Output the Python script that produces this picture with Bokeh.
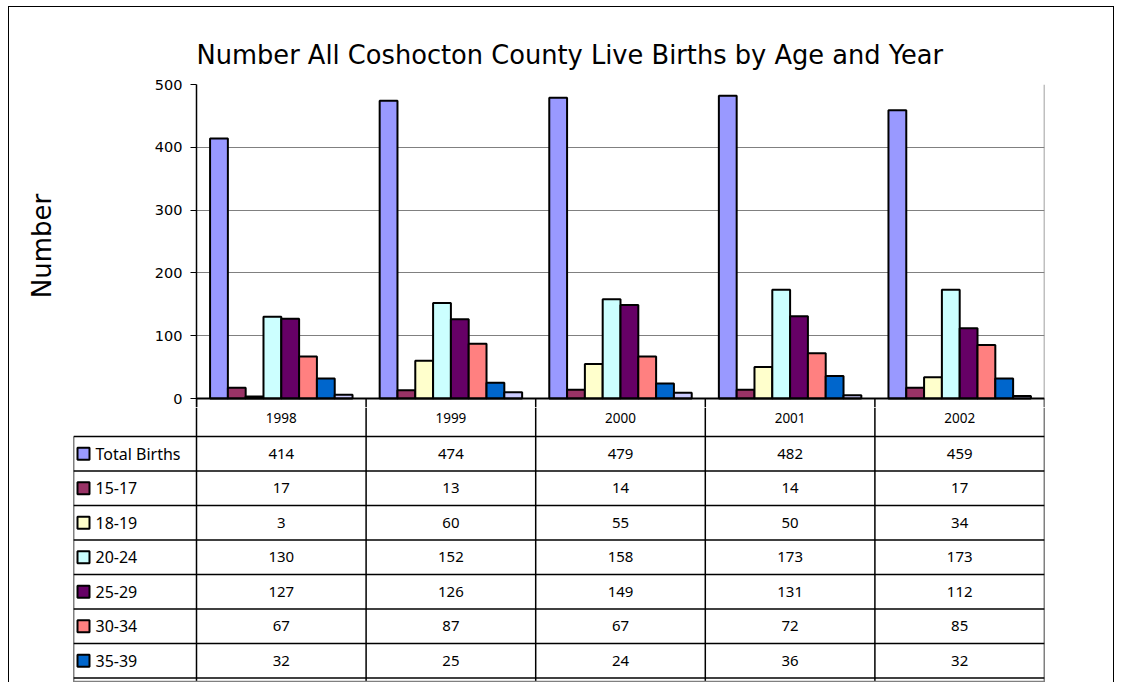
from bokeh.plotting import figure
from bokeh.models import Range1d, Span, FixedTicker
from bokeh.layouts import column
from bokeh.embed import file_html
from bokeh.resources import INLINE
from bokeh.core.properties import value

# ---- data ----
years = ["1998", "1999", "2000", "2001", "2002"]
series_names = ["Total Births", "15-17", "18-19", "20-24", "25-29", "30-34", "35-39", "40+"]
total_births = [414, 474, 479, 482, 459]
age_15_17 = [17, 13, 14, 14, 17]
age_18_19 = [3, 60, 55, 50, 34]
age_20_24 = [130, 152, 158, 173, 173]
age_25_29 = [127, 126, 149, 131, 112]
age_30_34 = [67, 87, 67, 72, 85]
age_35_39 = [32, 25, 24, 36, 32]
age_40_plus = [6, 10, 9, 5, 4]
y_ticks = [0, 100, 200, 300, 400, 500]
colors = ["#9999FF", "#993366", "#FFFFCC", "#CCFFFF", "#660066", "#FF8080", "#0066CC", "#CCCCFF"]

series_values = [total_births, age_15_17, age_18_19, age_20_24, age_25_29,
                 age_30_34, age_35_39, age_40_plus]
table_rows = 7  # rows visible in the data table

FONT = "DejaVu Sans"
TFONT = "Noto Sans"
W = 1104
L1 = 187
FW = 848
FH = 314
R = W - L1 - FW
UNIT = FW / len(years)
PX_PER_VAL = FH / 500
EXT = 9           # px the chart frame extends below zero (tick marks)
ROW_H = 34.5
HEAD_H = 38

# ---- bar chart ----
y_min = -EXT / PX_PER_VAL
p = figure(width=W, height=77 + FH + EXT, x_range=Range1d(0, len(years)), y_range=Range1d(y_min, 500),
           output_backend="svg", toolbar_location=None, x_axis_location=None,
           min_border_left=L1, min_border_right=R, min_border_top=77, min_border_bottom=0)
p.frame_align = False
p.title.text = "Number All Coshocton County Live Births by Age and Year"
p.title.align = "left"
p.title.offset = 0
p.title.text_font = FONT
p.title.text_font_size = "25.7px"
p.title.text_font_style = "normal"
p.title.text_color = "black"
p.title.standoff = 29

p.yaxis.ticker = FixedTicker(ticks=y_ticks)
p.yaxis.major_tick_out = 6
p.yaxis.major_tick_in = 0
p.yaxis.minor_tick_line_color = None
p.yaxis.axis_line_color = "black"
p.yaxis.axis_line_width = 1.5
p.yaxis.major_tick_line_color = "black"
p.yaxis.major_label_standoff = 8
p.yaxis.major_label_text_font = FONT
p.yaxis.major_label_text_font_size = "14.5px"
p.yaxis.major_label_text_color = "black"
p.yaxis.axis_label = "Number"
p.yaxis.axis_label_text_font = FONT
p.yaxis.axis_label_text_font_size = "26px"
p.yaxis.axis_label_text_font_style = "normal"
p.yaxis.axis_label_text_color = "black"
p.yaxis.axis_label_standoff = 95

p.ygrid.ticker = FixedTicker(ticks=y_ticks)
p.ygrid.grid_line_color = "#808080"
p.xgrid.visible = False
p.outline_line_color = None
p.background_fill_color = "white"
p.border_fill_color = "white"

# gray right edge of plot area
p.add_layout(Span(location=len(years), dimension="height", line_color="#808080", line_width=1.5))

n = len(series_values)
bw = 0.84 / n
for k, (vals, col) in enumerate(zip(series_values, colors)):
    xs = [i + 0.5 + (k - (n - 1) / 2) * bw for i in range(len(years))]
    p.vbar(x=xs, top=vals, bottom=0, width=bw, fill_color=col,
           line_color="black", line_width=2)

# category boundary tick marks continuing into the table
edges = list(range(len(years) + 1))
p.segment(x0=edges, y0=[0] * len(edges), x1=edges, y1=[y_min] * len(edges),
          line_color="black", line_width=1.5)
p.add_layout(Span(location=0, dimension="width", line_color="black", line_width=2))

# ---- data table below ----
L2 = 64
x_left = -(L1 - L2) / UNIT
y_top = -(HEAD_H - EXT) / ROW_H
y_bottom = 7.13
H2 = int(round((y_bottom - y_top) * ROW_H))
p2 = figure(width=W, height=H2, x_range=Range1d(x_left, len(years)),
            y_range=Range1d(y_bottom, y_top),
            output_backend="svg", toolbar_location=None,
            x_axis_location=None, y_axis_location=None,
            min_border_left=L2, min_border_right=R, min_border_top=0, min_border_bottom=0)
p2.frame_align = False
p2.grid.visible = False
p2.outline_line_color = None
p2.background_fill_color = "white"
p2.border_fill_color = "white"

p2.segment(x0=edges, y0=[y_top] * len(edges), x1=edges,
           y1=[y_bottom] * len(edges), line_color="black", line_width=1.5)
p2.segment(x0=[x_left], y0=[0], x1=[x_left], y1=[y_bottom], line_color="black", line_width=1.5)
row_edges = list(range(table_rows + 1))
p2.segment(x0=[x_left] * len(row_edges), y0=row_edges, x1=[len(years)] * len(row_edges),
           y1=row_edges, line_color="black", line_width=1.5)
p2.segment(x0=[x_left], y0=[y_bottom - 0.03], x1=[len(years)], y1=[y_bottom - 0.03],
           line_color="#808080", line_width=1.5)

head_mid = -(HEAD_H / 2) / ROW_H
p2.text(x=[i + 0.5 for i in range(len(years))], y=[head_mid] * len(years), text=years,
        text_align="center", text_baseline="middle", text_font=value(TFONT),
        text_font_size="13.5px", text_color="black")

for r in range(table_rows):
    vals = series_values[r]
    p2.text(x=[i + 0.5 for i in range(len(years))], y=[r + 0.5] * len(years),
            text=[str(v) for v in vals], text_align="center", text_baseline="middle",
            text_font=value(TFONT), text_font_size="15px", text_color="black")

key_x = x_left + 10 / UNIT
p2.rect(x=[key_x] * table_rows, y=[r + 0.5 for r in range(table_rows)], width=12, height=12,
        width_units="screen", height_units="screen", fill_color=colors[:table_rows],
        line_color="black", line_width=2)
p2.text(x=[x_left] * table_rows, y=[r + 0.5 for r in range(table_rows)],
        text=series_names[:table_rows], x_offset=22, text_align="left", text_baseline="middle",
        text_font=value(TFONT), text_font_size="16px", text_color="black")

inner = column(p, p2, spacing=0,
               styles={"border-left": "1px solid black", "border-top": "1px solid black",
                       "border-right": "1px solid black"})
outer = column(inner, styles={"padding-left": "8px", "padding-top": "6px"})
open("out.html", "w").write(file_html(outer, INLINE))
